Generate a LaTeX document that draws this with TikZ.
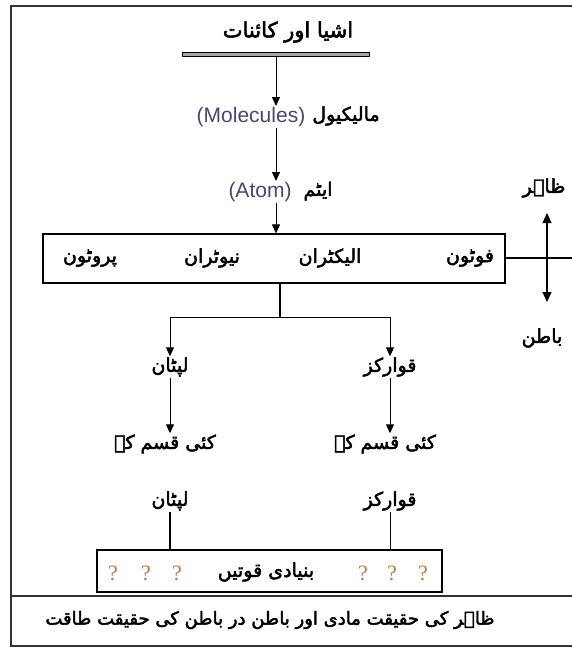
\documentclass[tikz,border=0pt]{standalone}
\usepackage{fontspec}
\setmainfont{Liberation Sans}
\newfontfamily\urdufont[Script=Arabic,FakeBold=2.5]{DejaVu Sans}
\newfontfamily\qfont{Liberation Serif}
\TeXXeTstate=1
\usepackage{xcolor}
\usepackage{tikz}
\usetikzlibrary{arrows.meta,positioning}
\newcommand{\urd}[1]{{\urdufont\beginR #1\endR}}
\definecolor{engblue}{RGB}{70,70,120}
\definecolor{qorange}{RGB}{190,120,60}

\begin{document}
\begin{tikzpicture}[x=1pt, y=-1pt,
            ur/.style={inner sep=1pt, font=\fontsize{19}{22}\selectfont},
            eng/.style={inner sep=1pt, text=engblue, font=\fontsize{21}{24}\selectfont},
            qm/.style={inner sep=1pt, text=qorange, font=\fontsize{22}{26}\selectfont\qfont},
            box/.style={draw, line width=1.2pt, rectangle, inner sep=0pt},
            arr/.style={-{Triangle[length=9pt,width=8pt]}, line width=1pt},
            frame/.style={line width=1.5pt, draw=black!80}
            ]
            \useasboundingbox (0,0) rectangle (572,648);

            % Frame
            \draw[frame] (572,6) -- (11,6) -- (11,646) -- (572,646);
            \draw[frame] (11,596) -- (572,596);

            % Nodes with manual coordinates
            \node[ur, font=\fontsize{21}{24}\selectfont] (title) at (288,32) {\urd{اشیا اور کائنات}};
            \node[box, fill=black!35, line width=.8pt, minimum width=187pt, minimum height=4pt] (bar) at (276,54) {};
            \node[eng] (molen) at (251,117) {(Molecules)};
            \node[ur] (molur) at (346,116) {\urd{مالیکیول}};
            \node[eng] (atomen) at (260,192) {(Atom)};
            \node[ur] (atomur) at (318,191) {\urd{ایٹم}};
            \node[box, minimum width=462pt, minimum height=49pt] (parts) at (274,258.5) {};
            \node[ur] (proton) at (90,258) {\urd{پروٹون}};
            \node[ur] (neutron) at (212,258) {\urd{نیوٹران}};
            \node[ur] (electron) at (330,258) {\urd{الیکٹران}};
            \node[ur] (photon) at (470,258) {\urd{فوٹون}};
            \node[ur] (zahir) at (544,188) {\urd{ظاہر}};
            \node[ur] (batin) at (542,338) {\urd{باطن}};
            \coordinate (cross) at (547,258);
            \coordinate (edge) at (572,258);
            \coordinate (up) at (547,213);
            \coordinate (down) at (547,302);
            \coordinate (fork) at (280,317);
            \node[ur] (lep1) at (170,367) {\urd{لپٹان}};
            \node[ur] (qua1) at (390,367) {\urd{قوارکز}};
            \node[ur] (many1) at (165,444) {\urd{کئی قسم کے}};
            \node[ur] (many2) at (385,444) {\urd{کئی قسم کے}};
            \node[ur] (lep2) at (170,501) {\urd{لپٹان}};
            \node[ur] (qua2) at (390,501) {\urd{قوارکز}};
            \node[box, minimum width=345pt, minimum height=42pt] (forcebox) at (269.5,571) {};
            \node[ur] (forces) at (266,572) {\urd{بنیادی قوتیں}};
            \foreach \x [count=\i] in {113,146,177,363,392,423}
                \node[qm] (q\i) at (\x,573) {?};
            \node[ur, font=\fontsize{18}{21}\selectfont] (result) at (270,620) {\urd{ظاہر کی حقیقت مادی اور باطن در باطن کی حقیقت طاقت}};

            % Arrows
            \draw[arr] (bar.south) -- (bar.south |- molen.north);
            \draw[arr] (bar.south |- molen.south) -- (bar.south |- atomen.north);
            \draw[arr] (bar.south |- atomen.south) -- (bar.south |- parts.north);
            \draw[line width=1.2pt] (parts.east |- cross) -- (edge);
            \draw[{Triangle[length=10pt,width=9pt]}-{Triangle[length=10pt,width=9pt]}, line width=1.2pt] (up) -- (down);
            \draw[line width=1.2pt] (parts.south -| fork) -- (fork);
            \draw[arr] (fork) -| (lep1.north);
            \draw[arr] (fork) -| (qua1.north);
            \draw[arr] (lep1.south) -- (many1.north -| lep1.south);
            \draw[arr] (qua1.south) -- (many2.north -| qua1.south);
            \draw[line width=1.2pt] (lep2.south) -- (lep2.south |- forcebox.north);
            \draw[line width=1pt] (qua2.south) -- (qua2.south |- forcebox.north);
        \end{tikzpicture}
\end{document}
